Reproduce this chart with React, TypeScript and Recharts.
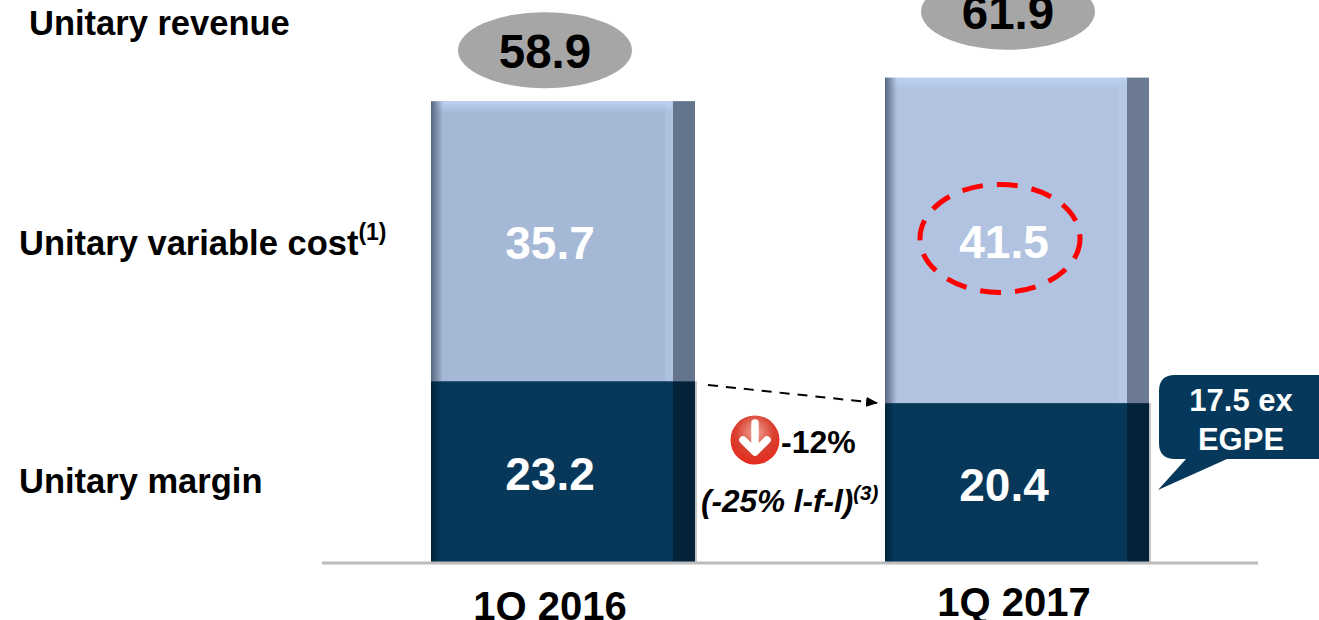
import React from 'react';
import { ComposedChart, Bar, Line, XAxis, YAxis, LabelList } from 'recharts';

const categories = ['1Q 2016', '1Q 2017'];
const unitaryMargin = [23.2, 20.4];
const unitaryVariableCost = [35.7, 41.5];
const unitaryRevenue = [58.9, 61.9];
const highlightedCost = [false, true];
const rows = categories.map((category, i) => ({
  category,
  margin: unitaryMargin[i],
  cost: unitaryVariableCost[i],
  revenue: unitaryRevenue[i],
}));

const FONT = '"Liberation Sans", Arial, sans-serif';
const costFace = ['#A5B8D6', '#B1C3E0'];
const costSide = ['#64748C', '#6C7B93'];
const marginFace = '#07385A';
const marginSide = '#02233A';

const labelDx = [-13, -13];
const ellipseOffset = [-51, -66];
const ellipseDx = [-18, -9];
const tickDx = [-13, -3];
const tickY = [606, 602];

const CostShape = (p: any) => {
  const { x, y, width, height, index } = p;
  const side = 22;
  return (
    <g>
      <rect x={x} y={y} width={width} height={height} fill={costFace[index]} />
      <rect x={x} y={y} width={width - side} height={11} fill="url(#topGlow)" />
      <rect x={x} y={y} width={12} height={height} fill="url(#leftEdgeCost)" />
      <rect x={x + width - side - 8} y={y} width={8} height={height} fill="#BBD0EE" opacity={0.35} />
      <rect x={x + width - side} y={y} width={side} height={height} fill={costSide[index]} />
    </g>
  );
};

const MarginShape = (p: any) => {
  const { x, y, width, height } = p;
  const side = 22;
  return (
    <g>
      <rect x={x} y={y} width={width} height={height} fill={marginFace} />
      <rect x={x} y={y} width={10} height={height} fill="url(#leftEdgeMargin)" />
      <rect x={x + width - side} y={y} width={side} height={height} fill={marginSide} />
      <rect x={x + width} y={y} width={2} height={height} fill="#8A8A8A" opacity={0.5} />
    </g>
  );
};

const SegmentLabel = (p: any) => {
  const { x, y, width, height, value, index, ring } = p;
  const tx = x + width / 2 + labelDx[index];
  const ty = y + height / 2 + 2;
  return (
    <g>
      {ring && highlightedCost[index] ? (
        <ellipse cx={tx - 4} cy={ty - 4} rx={80} ry={54} fill="none" stroke="#FF0000" strokeWidth={5} strokeDasharray="21 14" />
      ) : null}
      <text x={tx} y={ty} textAnchor="middle" dominantBaseline="central" fill="#FFFFFF" fontFamily={FONT} fontWeight={700} fontSize={46}>
        {value}
      </text>
    </g>
  );
};

const RevenueDot = (p: any) => {
  const { cx, cy, index, value } = p;
  const shown = Array.isArray(value) ? value[1] : value;
  const ex = cx + ellipseDx[index];
  const ey = cy + ellipseOffset[index];
  return (
    <g key={index}>
      <ellipse cx={ex} cy={ey} rx={87} ry={38} fill="#A6A6A6" />
      <text x={ex} y={ey + 1} textAnchor="middle" dominantBaseline="central" fill="#000" fontFamily={FONT} fontWeight={700} fontSize={47.5}>
        {shown}
      </text>
    </g>
  );
};

const CategoryTick = (p: any) => {
  const { x, payload, index } = p;
  return (
    <text x={x + tickDx[index]} y={tickY[index]} textAnchor="middle" dominantBaseline="central" fill="#000" fontFamily={FONT} fontWeight={700} fontSize={40}>
      {payload.value}
    </text>
  );
};

const side = { fontFamily: FONT, fontWeight: 700, fill: '#000' } as const;

export default function App() {
  return (
    <div style={{ position: 'absolute', left: 0, top: 0, width: 1319, height: 620, overflow: 'hidden', background: '#fff' }}>
      <ComposedChart
        width={1319}
        height={620}
        data={rows}
        barCategoryGap={0}
        margin={{ top: 14.2, right: 61, bottom: 56, left: 322 }}
      >
        <defs>
          <linearGradient id="topGlow" x1="0" y1="0" x2="0" y2="1">
            <stop offset="0" stopColor="#BCD2F2" stopOpacity={1} />
            <stop offset="1" stopColor="#BCD2F2" stopOpacity={0} />
          </linearGradient>
          <linearGradient id="leftEdgeCost" x1="0" y1="0" x2="1" y2="0">
            <stop offset="0" stopColor="#56677F" stopOpacity={1} />
            <stop offset="1" stopColor="#56677F" stopOpacity={0} />
          </linearGradient>
          <linearGradient id="leftEdgeMargin" x1="0" y1="0" x2="1" y2="0">
            <stop offset="0" stopColor="#02233A" stopOpacity={1} />
            <stop offset="1" stopColor="#02233A" stopOpacity={0} />
          </linearGradient>
          <radialGradient id="iconFill" cx="0.5" cy="0.35" r="0.7">
            <stop offset="0" stopColor="#F2A79A" />
            <stop offset="0.55" stopColor="#D9402F" />
            <stop offset="1" stopColor="#E8261A" />
          </radialGradient>
          <marker id="arrowHead" markerWidth="12" markerHeight="10" refX="11" refY="5" orient="auto" markerUnits="userSpaceOnUse">
            <path d="M0,0 L12,5 L0,10 Z" fill="#000" />
          </marker>
        </defs>
        <XAxis
          dataKey="category"
          interval={0}
          height={1}
          padding={{ left: 14, right: 14 }}
          axisLine={{ stroke: '#BDBDBD', strokeWidth: 3 }}
          tickLine={false}
          tick={<CategoryTick />}
        />
        <YAxis hide domain={[0, 70]} />
        <Bar dataKey="margin" stackId="unit" barSize={264} isAnimationActive={false} shape={<MarginShape />}>
          <LabelList dataKey="margin" content={<SegmentLabel />} />
        </Bar>
        <Bar dataKey="cost" stackId="unit" barSize={264} isAnimationActive={false} shape={<CostShape />}>
          <LabelList dataKey="cost" content={<SegmentLabel ring />} />
        </Bar>
        <Line dataKey="revenue" stroke="none" isAnimationActive={false} dot={<RevenueDot />} activeDot={false} />

        <text x={29} y={23} dominantBaseline="central" fontSize={34.5} {...side}>Unitary revenue</text>
        <text x={19} y={243} dominantBaseline="central" fontSize={34.5} {...side}>
          Unitary variable cost<tspan fontSize={23} dy={-11}>(1)</tspan>
        </text>
        <text x={19} y={481} dominantBaseline="central" fontSize={34.5} {...side}>Unitary margin</text>

        <line x1={708} y1={385} x2={877} y2={403} stroke="#000" strokeWidth={2} strokeDasharray="10 8" markerEnd="url(#arrowHead)" />

        <circle cx={755} cy={440} r={24.5} fill="url(#iconFill)" />
        <path d="M755,423 V451 M743,440 L755,452 L767,440" fill="none" stroke="#FFF" strokeWidth={7.5} strokeLinecap="round" strokeLinejoin="round" />
        <text x={781} y={442} dominantBaseline="central" fontSize={32} {...side}>-12%</text>
        <text x={701} y={501} dominantBaseline="central" fontSize={31.5} fontStyle="italic" {...side}>
          (-25% l-f-l)<tspan fontSize={20.5} dy={-9}>(3)</tspan>
        </text>

        <path
          d="M1175,375 H1319 V459 H1227 L1158,490 L1186,459 H1175 Q1159,459 1159,443 V391 Q1159,375 1175,375 Z"
          fill="#05385A"
        />
        <text x={1241} y={400} textAnchor="middle" dominantBaseline="central" fontSize={31} fontFamily={FONT} fontWeight={700} fill="#FFF">17.5 ex</text>
        <text x={1241} y={439} textAnchor="middle" dominantBaseline="central" fontSize={31} fontFamily={FONT} fontWeight={700} fill="#FFF">EGPE</text>
      </ComposedChart>
    </div>
  );
}
